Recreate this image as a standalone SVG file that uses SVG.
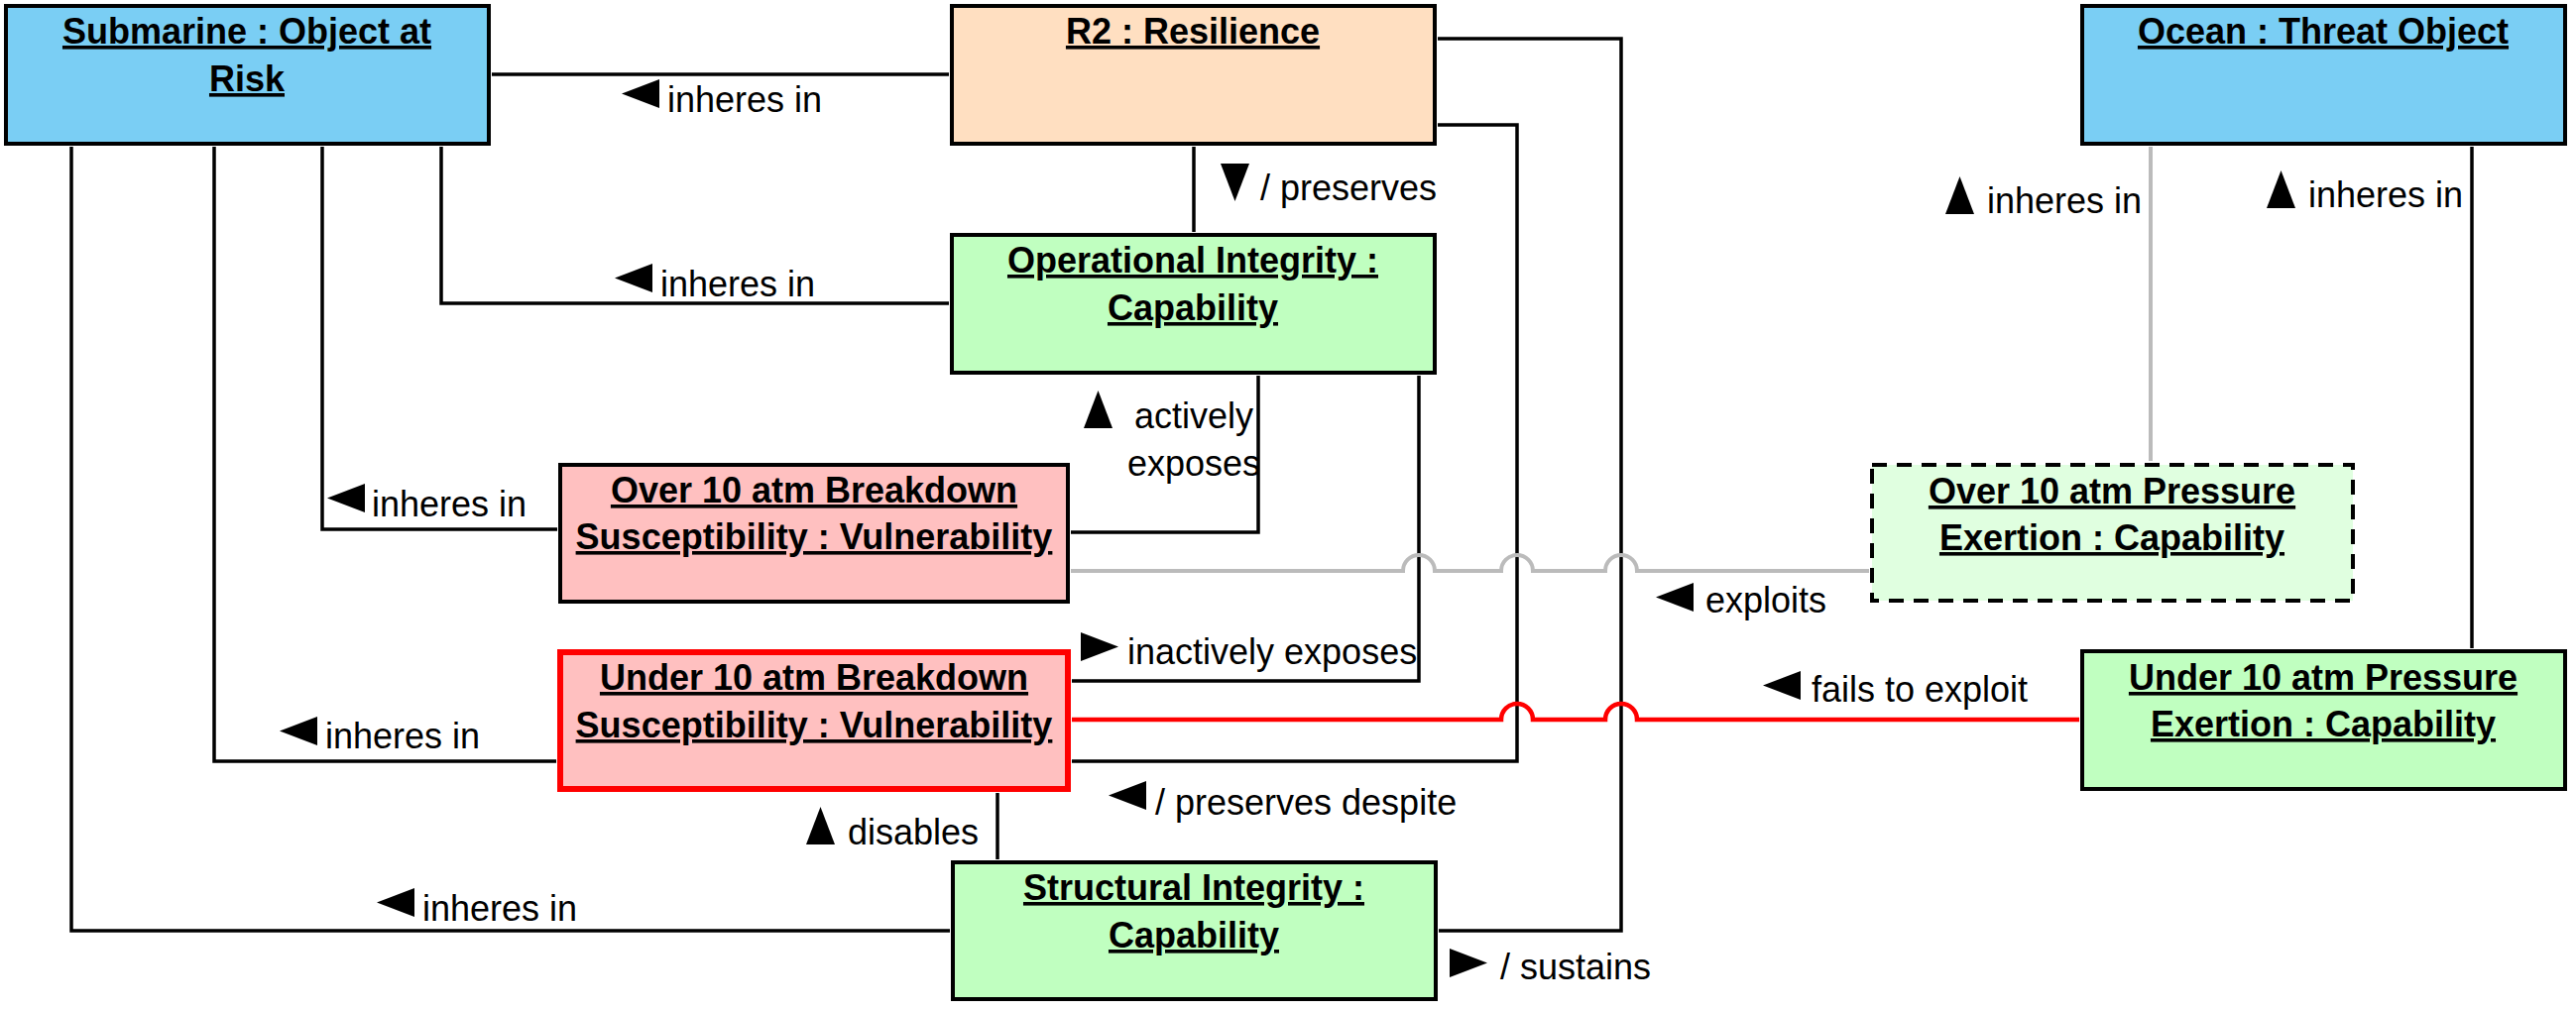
<svg xmlns="http://www.w3.org/2000/svg" xmlns:xlink="http://www.w3.org/1999/xlink" width="2598" height="1020" viewBox="0 0 2598 1020">
<style>
.box{stroke:#000;stroke-width:4}
.blue{fill:#7ACEF4}
.peach{fill:#FFDFC1}
.green{fill:#C0FFC0}
.lgreen{fill:#E0FFE0;stroke-dasharray:15 10}
.pink{fill:#FFC0C0}
.redb{stroke:#FF0000;stroke-width:6}
.title{font-family:"Liberation Sans",Arial,sans-serif;font-size:36px;font-weight:bold;text-anchor:middle;text-decoration:underline;fill:#000}
.lbl{font-family:"Liberation Sans",Arial,sans-serif;font-size:36px;fill:#000}
.c{fill:none;stroke:#000;stroke-width:3.5}
.g{fill:none;stroke:#BBBBBB;stroke-width:4}
.r{fill:none;stroke:#FF0000;stroke-width:4.5}
.tri{fill:#000}
</style>
<defs>
<polygon id="triL" class="tri" points="0,14.5 38,0 38,29"/>
<polygon id="triR" class="tri" points="0,0 38,14.5 0,29"/>
<polygon id="triU" class="tri" points="14.5,0 29,38 0,38"/>
<polygon id="triD" class="tri" points="0,0 29,0 14.5,38"/>
</defs>
<rect width="2598" height="1020" fill="#FFFFFF"/>

<g id="connectors">
<path class="c" d="M496,75 H957"/>
<path class="c" d="M445,148 V306 H957"/>
<path class="c" d="M325,148 V534 H562"/>
<path class="c" d="M216,148 V768 H561"/>
<path class="c" d="M72,148 V939 H958"/>
<path class="c" d="M1204,148 V234"/>
<path class="c" d="M1269,379 V537 H1080"/>
<path class="c" d="M1431,379 V687 H1081"/>
<path class="c" d="M1450,126 H1530 V768 H1081"/>
<path class="c" d="M1450,39 H1635 V939 H1451"/>
<path class="c" d="M1006,800 V867"/>
<path class="g" d="M1080,576 H1415 A16,16 0 0 1 1447,576 H1514 A16,16 0 0 1 1546,576 H1619 A16,16 0 0 1 1651,576 H1885"/>
<path class="r" d="M1081,726 H1514 A16,16 0 0 1 1546,726 H1619 A16,16 0 0 1 1651,726 H2097"/>
<path class="g" d="M2169,148 V465"/>
<path class="c" d="M2493,148 V654"/>

<g id="labels">
<use xlink:href="#triL" x="627" y="80"/><text class="lbl" x="673" y="113">inheres in</text>
<use xlink:href="#triL" x="620" y="266"/><text class="lbl" x="666" y="299">inheres in</text>
<use xlink:href="#triL" x="330" y="488"/><text class="lbl" x="375" y="521">inheres in</text>
<use xlink:href="#triL" x="282" y="723"/><text class="lbl" x="328" y="755">inheres in</text>
<use xlink:href="#triL" x="380" y="896"/><text class="lbl" x="426" y="929">inheres in</text>
<use xlink:href="#triD" x="1231" y="165"/><text class="lbl" x="1271" y="202">/ preserves</text>
<use xlink:href="#triU" x="1093" y="394"/><text class="lbl" x="1204" y="432" text-anchor="middle">actively</text><text class="lbl" x="1204" y="480" text-anchor="middle">exposes</text>
<use xlink:href="#triR" x="1090" y="638"/><text class="lbl" x="1137" y="670">inactively exposes</text>
<use xlink:href="#triL" x="1670" y="588"/><text class="lbl" x="1720" y="618">exploits</text>
<use xlink:href="#triL" x="1778" y="677"/><text class="lbl" x="1827" y="708">fails to exploit</text>
<use xlink:href="#triL" x="1118" y="788"/><text class="lbl" x="1165" y="822">/ preserves despite</text>
<use xlink:href="#triU" x="813" y="814"/><text class="lbl" x="855" y="852">disables</text>
<use xlink:href="#triR" x="1462" y="957"/><text class="lbl" x="1513" y="988">/ sustains</text>
<use xlink:href="#triU" x="1962" y="178"/><text class="lbl" x="2004" y="215">inheres in</text>
<use xlink:href="#triU" x="2286" y="172"/><text class="lbl" x="2328" y="209">inheres in</text>
</g>
</g>

<g id="submarine">
<rect class="box blue" x="6" y="6" width="487" height="139"/>
<text class="title" x="249" y="44">Submarine : Object at</text>
<text class="title" x="249" y="92">Risk</text>
</g>
<g id="r2">
<rect class="box peach" x="960" y="6" width="487" height="139"/>
<text class="title" x="1203" y="44">R2 : Resilience</text>
</g>
<g id="ocean">
<rect class="box blue" x="2100" y="6" width="487" height="139"/>
<text class="title" x="2343" y="44">Ocean : Threat Object</text>
</g>
<g id="operational-integrity">
<rect class="box green" x="960" y="237" width="487" height="139"/>
<text class="title" x="1203" y="275">Operational Integrity :</text>
<text class="title" x="1203" y="323">Capability</text>
</g>
<g id="over-breakdown">
<rect class="box pink" x="565" y="469" width="512" height="138"/>
<text class="title" x="821" y="507">Over 10 atm Breakdown</text>
<text class="title" x="821" y="554">Susceptibility : Vulnerability</text>
</g>
<g id="over-pressure">
<rect class="box lgreen" x="1888" y="469" width="485" height="137"/>
<text class="title" x="2130" y="508">Over 10 atm Pressure</text>
<text class="title" x="2130" y="555">Exertion : Capability</text>
</g>
<g id="under-breakdown">
<rect class="pink redb" x="565" y="658" width="512" height="138"/>
<text class="title" x="821" y="696">Under 10 atm Breakdown</text>
<text class="title" x="821" y="744">Susceptibility : Vulnerability</text>
</g>
<g id="under-pressure">
<rect class="box green" x="2100" y="657" width="487" height="139"/>
<text class="title" x="2343" y="696">Under 10 atm Pressure</text>
<text class="title" x="2343" y="743">Exertion : Capability</text>
</g>
<g id="structural-integrity">
<rect class="box green" x="961" y="870" width="487" height="138"/>
<text class="title" x="1204" y="908">Structural Integrity :</text>
<text class="title" x="1204" y="956">Capability</text>
</g>
</svg>
